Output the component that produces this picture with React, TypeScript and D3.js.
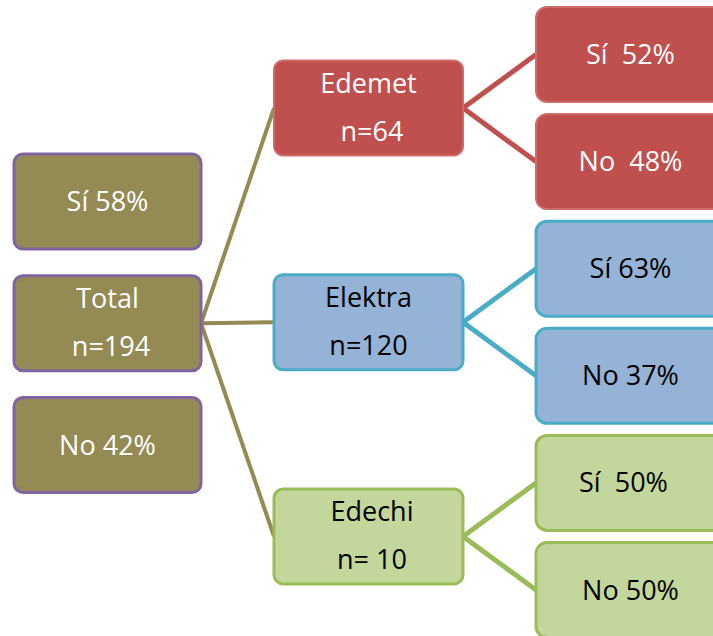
import React from "react";
import * as d3 from "d3";

// ---- data ----
const rootLines = ["Total", " n=194"];
const rootSplit = ["Sí 58%", "No 42%"];
const companies = ["Edemet", "Elektra", " Edechi"];
const companyN = [" n=64", "n=120", " n= 10"];
const answerLabels = [
  ["Sí  52%", "No  48%"],
  ["Sí 63%", "No 37%"],
  ["Sí  50%  ", "No 50%"],
];

// ---- styles ----
const W = 713;
const H = 636;
const FONT = "Open Sans, sans-serif";
const FS = 27;
const companyStyle = [
  { fill: "#C0504D", stroke: "#CF6C69", sw: 2, text: "#FFFFFF", link: "#C0504D" },
  { fill: "#95B3D7", stroke: "#4BACC6", sw: 3, text: "#000000", link: "#4BACC6" },
  { fill: "#C3D69B", stroke: "#9BBB59", sw: 3, text: "#000000", link: "#9BBB59" },
];
const rootStyle = { fill: "#948A54", stroke: "#8064A2", sw: 3, text: "#FFFFFF", link: "#948A54" };

export default function App() {
  const leafCount = companies.length * 2;
  const leafY = d3.scaleLinear().domain([0, leafCount - 1]).range([54.5, 590]);
  const midY = (i: number) => (leafY(i * 2) + leafY(i * 2 + 1)) / 2;
  const leftY = d3.scaleLinear().domain([0, 2]).range([201.5, 445]);
  const colX = d3.scaleOrdinal<number, number>().domain([0, 1, 2]).range([14, 274, 536]);
  const boxW = [187, 189, 189];
  const boxH = 95;
  const line = d3.line<[number, number]>();

  const textBlock = (
    lines: string[],
    cx: number,
    cy: number,
    color: string,
    key: string
  ) => {
    const offs = lines.length === 1 ? [9.5] : [-15, 33];
    return lines.map((t, j) => (
      <text
        key={key + j}
        x={cx}
        y={cy + offs[j]}
        textAnchor="middle"
        fill={color}
        fontFamily={FONT}
        fontSize={FS}
        style={{ whiteSpace: "pre" }}
      >
        {t}
      </text>
    ));
  };

  const box = (
    col: number,
    cy: number,
    st: { fill: string; stroke: string; sw: number },
    key: string,
    rx = 9
  ) => (
    <rect
      key={key}
      x={colX(col)}
      y={cy - boxH / 2}
      width={boxW[col]}
      height={boxH}
      rx={rx}
      fill={st.fill}
      stroke={st.stroke}
      strokeWidth={st.sw}
    />
  );

  const rootCY = leftY(1);
  const rootRight = colX(0) + boxW[0];
  const midRight = colX(1) + boxW[1];

  return (
    <svg width={W} height={H} style={{ position: "absolute", left: 0, top: 0 }}>
      <rect width={W} height={H} fill="#FFFFFF" />
      {/* links root -> companies */}
      {companies.map((_, i) => (
        <path
          key={"lr" + i}
          d={line([
            [rootRight, rootCY],
            [colX(1), midY(i)],
          ]) as string}
          stroke={rootStyle.link}
          strokeWidth={4}
          fill="none"
        />
      ))}
      {/* links companies -> answers */}
      {companies.map((_, i) =>
        [0, 1].map((k) => (
          <path
            key={"lc" + i + k}
            d={line([
              [midRight, midY(i)],
              [colX(2), leafY(i * 2 + k)],
            ]) as string}
            stroke={companyStyle[i].link}
            strokeWidth={5}
            fill="none"
          />
        ))
      )}
      {/* left column */}
      {box(0, leftY(0), rootStyle, "b0")}
      {textBlock([rootSplit[0]], colX(0) + boxW[0] / 2, leftY(0), rootStyle.text, "t0")}
      {box(0, leftY(1), rootStyle, "b1")}
      {textBlock(rootLines, colX(0) + boxW[0] / 2, leftY(1), rootStyle.text, "t1")}
      {box(0, leftY(2), rootStyle, "b2")}
      {textBlock([rootSplit[1]], colX(0) + boxW[0] / 2, leftY(2), rootStyle.text, "t2")}
      {/* companies */}
      {companies.map((c, i) => (
        <g key={"c" + i}>
          {box(1, midY(i), companyStyle[i], "cb" + i)}
          {textBlock([c, companyN[i]], colX(1) + boxW[1] / 2, midY(i), companyStyle[i].text, "ct" + i)}
        </g>
      ))}
      {/* answers */}
      {companies.map((_, i) =>
        [0, 1].map((k) => (
          <g key={"a" + i + k}>
            {box(2, leafY(i * 2 + k), companyStyle[i], "ab" + i + k, 11)}
            {textBlock([answerLabels[i][k]], colX(2) + boxW[2] / 2, leafY(i * 2 + k), companyStyle[i].text, "at" + i + k)}
          </g>
        ))
      )}
    </svg>
  );
}
